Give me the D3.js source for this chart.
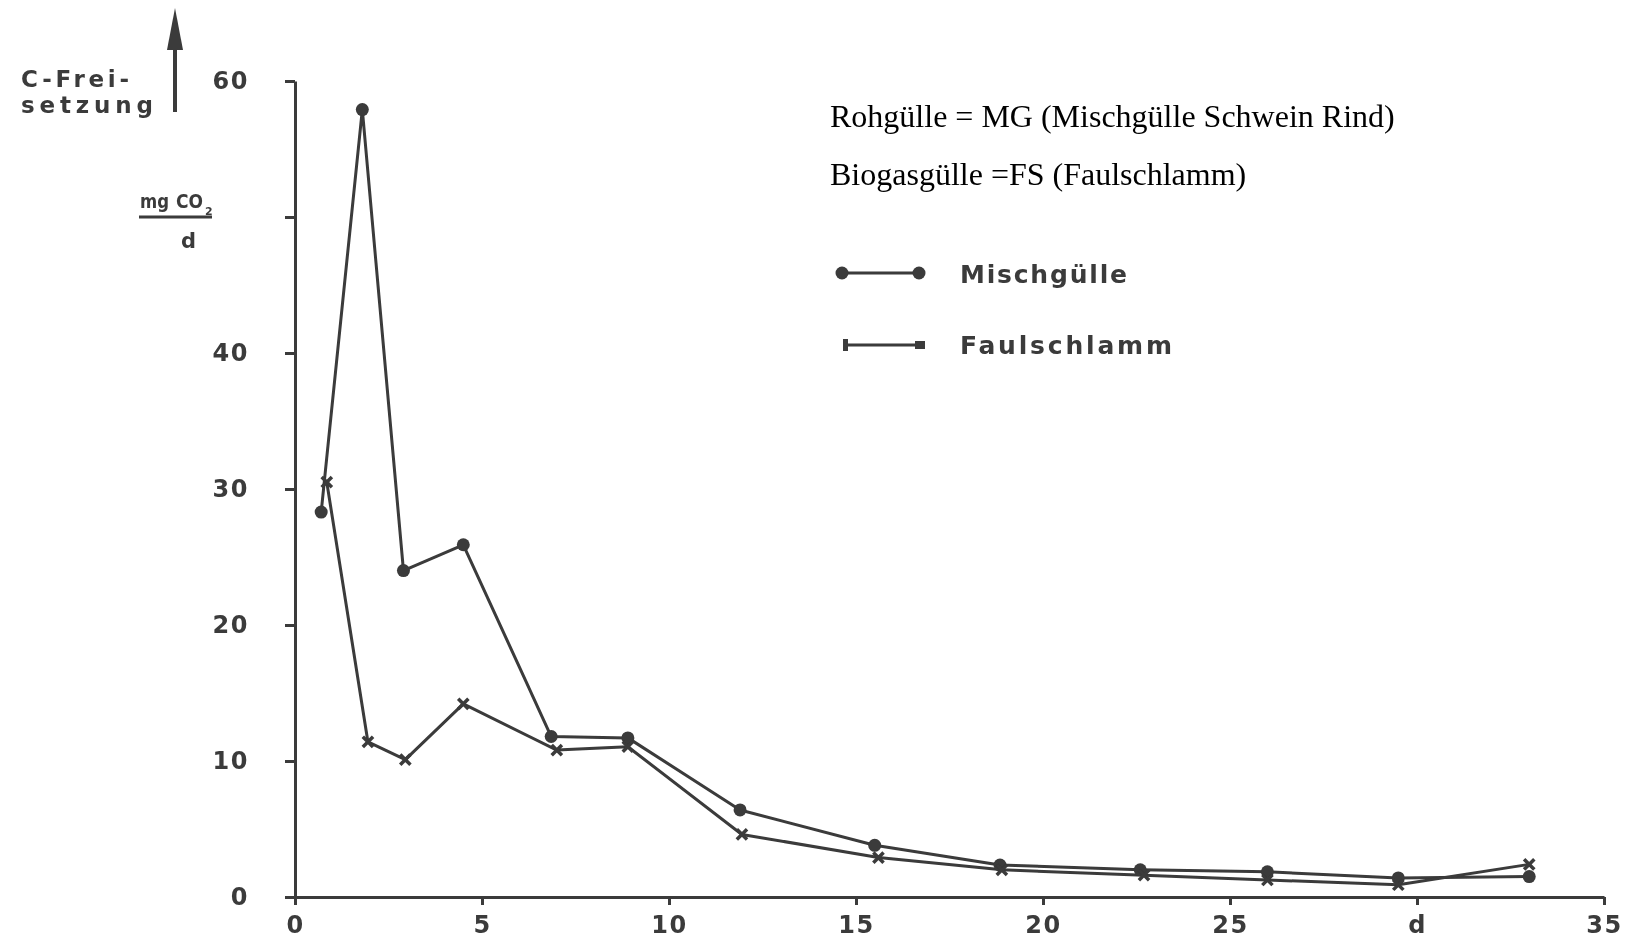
<!DOCTYPE html>
<html>
<head>
<meta charset="utf-8">
<script src="https://cdn.jsdelivr.net/npm/d3@7"></script>
<style>
  html, body { margin: 0; padding: 0; background: #fff; }
  svg { display: block; }
</style>
</head>
<body>
<svg id="chart" width="1634" height="948"></svg>
<script>
// Days after application (x) and C release in mg CO2 per day (y)
const mgDays  = [0.7, 1.8, 2.9, 4.5, 6.85, 8.9, 11.9, 15.5, 18.85, 22.6, 26.0, 29.5, 33.0];
const mgVals  = [28.3, 57.9, 24.0, 25.9, 11.8, 11.7, 6.4, 3.8, 2.35, 2.0, 1.85, 1.4, 1.5];
const fsDays  = [0.85, 1.95, 2.95, 4.5, 7.0, 8.9, 11.95, 15.6, 18.9, 22.7, 26.0, 29.5, 33.0];
const fsVals  = [30.5, 11.4, 10.1, 14.2, 10.8, 11.05, 4.6, 2.9, 2.0, 1.6, 1.25, 0.9, 2.4];

const xTicks = [0, 5, 10, 15, 20, 25, 30, 35];
const xTickLabels = ["0", "5", "10", "15", "20", "25", "d", "35"];
const yTicks = [0, 10, 20, 30, 40, 50, 60];
const yTickLabels = ["0", "10", "20", "30", "40", "", "60"];

const seriesNames = ["Mischgülle", "Faulschlamm"];
const noteLines = ["Rohgülle = MG (Mischgülle Schwein Rind)", "Biogasgülle =FS (Faulschlamm)"];

const ink = "#3a3a3a";
const stencil = "'DejaVu Sans', Verdana, sans-serif";

const svg = d3.select("#chart");

// soft ink for the drafted chart
const defs = svg.append("defs");
defs.append("filter").attr("id", "soft")
  .attr("x", "-5%").attr("y", "-5%").attr("width", "110%").attr("height", "110%")
  .append("feGaussianBlur").attr("stdDeviation", 0.6);

const x = d3.scaleLinear().domain([0, 35]).range([295, 1604]);
const y = d3.scaleLinear().domain([0, 60]).range([897, 81]);

const plot = svg.append("g").attr("filter", "url(#soft)");

// y axis
const yAxis = d3.axisLeft(y)
  .tickValues(yTicks)
  .tickSize(10)
  .tickSizeOuter(0)
  .tickPadding(36)
  .tickFormat((d, i) => yTickLabels[i]);
const gy = plot.append("g").attr("transform", `translate(${x(0)},0)`).call(yAxis);

// x axis
const xAxis = d3.axisBottom(x)
  .tickValues(xTicks)
  .tickSize(8)
  .tickSizeOuter(0)
  .tickPadding(11)
  .tickFormat((d, i) => xTickLabels[i]);
const gx = plot.append("g").attr("transform", `translate(0,${y(0)})`).call(xAxis);

[gx, gy].forEach(g => {
  g.select(".domain").attr("stroke", ink).attr("stroke-width", 3);
  g.selectAll(".tick line").attr("stroke", ink).attr("stroke-width", 3);
  g.selectAll(".tick text")
    .attr("fill", ink)
    .attr("font-family", stencil)
    .attr("font-weight", "bold")
    .attr("font-size", 24)
    .attr("letter-spacing", 1.5);
});

// y axis title
const title = plot.append("g").attr("fill", ink)
  .attr("font-family", stencil).attr("font-weight", "bold");
title.append("text").attr("x", 21).attr("y", 87).attr("font-size", 23)
  .attr("textLength", 108).attr("lengthAdjust", "spacing").text("C-Frei-");
title.append("text").attr("x", 21).attr("y", 113).attr("font-size", 23)
  .attr("textLength", 132).attr("lengthAdjust", "spacing").text("setzung");
title.append("text").attr("x", 140).attr("y", 208).attr("font-size", 20)
  .attr("textLength", 29).attr("lengthAdjust", "spacingAndGlyphs").text("mg");
title.append("text").attr("x", 176).attr("y", 208).attr("font-size", 20)
  .attr("textLength", 27).attr("lengthAdjust", "spacingAndGlyphs").text("CO");
title.append("text").attr("x", 205).attr("y", 215).attr("font-size", 11).text("2");
plot.append("line").attr("x1", 139).attr("x2", 212).attr("y1", 217).attr("y2", 217)
  .attr("stroke", ink).attr("stroke-width", 3);
title.append("text").attr("x", 181).attr("y", 248).attr("font-size", 21).text("d");

// upward arrow beside the title
plot.append("line").attr("x1", 175).attr("x2", 175).attr("y1", 112).attr("y2", 40)
  .attr("stroke", ink).attr("stroke-width", 4);
plot.append("path").attr("d", "M175,8 L183,50 L167,50 Z").attr("fill", ink);

// series lines
const line = d3.line().x(d => x(d[0])).y(d => y(d[1]));
const mgData = mgDays.map((d, i) => [d, mgVals[i]]);
const fsData = fsDays.map((d, i) => [d, fsVals[i]]);

plot.append("path").datum(mgData).attr("d", line)
  .attr("fill", "none").attr("stroke", ink).attr("stroke-width", 3).attr("stroke-linejoin", "round");
plot.append("path").datum(fsData).attr("d", line)
  .attr("fill", "none").attr("stroke", ink).attr("stroke-width", 3).attr("stroke-linejoin", "round");

// markers: dots for Mischgülle, small crosses for Faulschlamm
plot.append("g").selectAll("circle").data(mgData).join("circle")
  .attr("cx", d => x(d[0])).attr("cy", d => y(d[1])).attr("r", 6.5).attr("fill", ink);
const cross = d3.symbol().type(d3.symbolX).size(70);
plot.append("g").selectAll("path").data(fsData).join("path")
  .attr("transform", d => `translate(${x(d[0])},${y(d[1])})`)
  .attr("d", cross).attr("fill", "none").attr("stroke", ink).attr("stroke-width", 3.5);

// legend
const lg = plot.append("g");
lg.append("line").attr("x1", 842).attr("x2", 919).attr("y1", 273).attr("y2", 273)
  .attr("stroke", ink).attr("stroke-width", 3);
lg.selectAll("circle").data([842, 919]).join("circle")
  .attr("cx", d => d).attr("cy", 273).attr("r", 6.5).attr("fill", ink);
lg.append("line").attr("x1", 845).attr("x2", 924).attr("y1", 345).attr("y2", 345)
  .attr("stroke", ink).attr("stroke-width", 3);
lg.append("rect").attr("x", 843).attr("y", 339).attr("width", 5).attr("height", 12).attr("fill", ink);
lg.append("rect").attr("x", 915).attr("y", 341).attr("width", 10).attr("height", 8).attr("fill", ink);
lg.selectAll("text").data(seriesNames).join("text")
  .attr("x", 960).attr("y", (d, i) => 283 + i * 71)
  .attr("fill", ink).attr("font-family", stencil).attr("font-weight", "bold")
  .attr("font-size", 25)
  .attr("textLength", (d, i) => i === 0 ? 167 : 212)
  .attr("lengthAdjust", "spacing")
  .text(d => d);

// explanatory notes
svg.append("g").selectAll("text").data(noteLines).join("text")
  .attr("x", 830).attr("y", (d, i) => 127 + i * 58)
  .attr("fill", "#000")
  .attr("font-family", "'Liberation Serif', 'Times New Roman', serif")
  .attr("font-size", 32)
  .text(d => d);
</script>
</body>
</html>
